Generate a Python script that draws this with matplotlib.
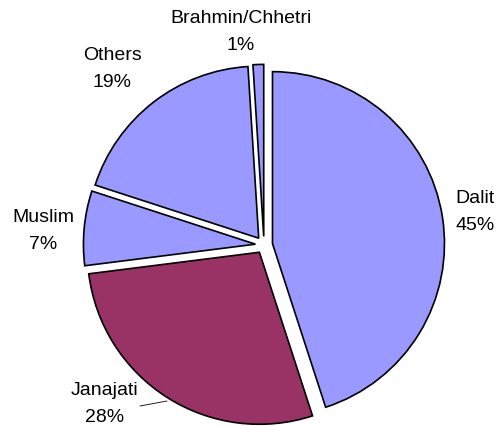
import matplotlib
matplotlib.use("Agg")
import matplotlib.pyplot as plt

categories = ["Dalit", "Janajati", "Muslim", "Others", "Brahmin/Chhetri"]
values = [45, 28, 7, 19, 1]
pct_labels = ["45%", "28%", "7%", "19%", "1%"]
colors = ["#9999FF", "#993366", "#9999FF", "#9999FF", "#9999FF"]

W, H = 499, 427
CX, CY, R = 264, 246, 172  # pixel centre and radius

def px(x, y):
    return ((x - CX) / R, (CY - y) / R)

fig = plt.figure(figsize=(W / 100, H / 100), dpi=100)
ax = fig.add_axes([0, 0, 1, 1])
ax.pie(values, colors=colors, startangle=90, counterclock=False,
       explode=[0.05] * len(values), radius=1.0,
       wedgeprops=dict(edgecolor="black", linewidth=1.2))
ax.set_xlim(-CX / R, (W - CX) / R)
ax.set_ylim(-(H - CY) / R, CY / R)
ax.set_aspect("equal", adjustable="datalim")
ax.axis("off")

label_px = [(475, 212), (105, 404), (43, 231), (112, 69), (241, 32)]
for cat, pct, (x, y) in zip(categories, pct_labels, label_px):
    ax.text(*px(x, y), f"{cat}\n{pct}", ha="center", va="center",
            fontsize=14, family="Liberation Sans", linespacing=1.8)

# leader line for Janajati
ax.annotate("", xy=px(167, 402), xytext=px(140, 407),
            arrowprops=dict(arrowstyle="-", color="black", lw=0.6,
                            shrinkA=0, shrinkB=0))

fig.savefig("out.png", dpi=100)
